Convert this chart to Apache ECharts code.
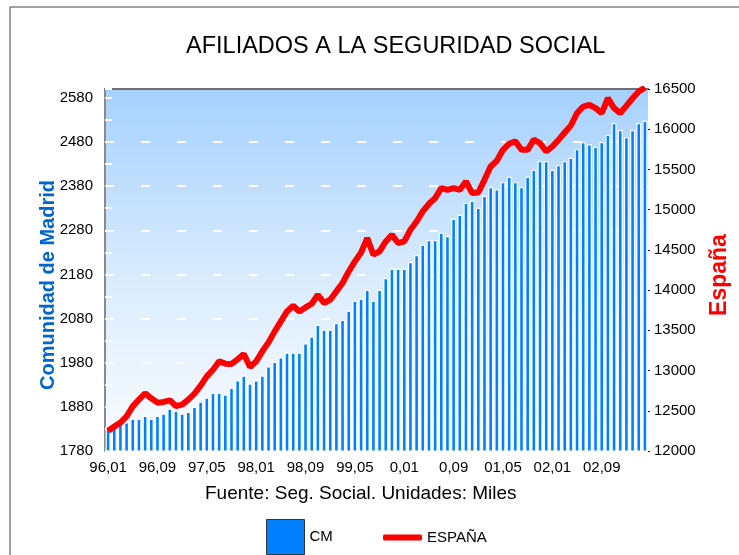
<!DOCTYPE html>
<html>
<head>
<meta charset="utf-8">
<title>Afiliados a la Seguridad Social</title>
<script src="https://cdn.jsdelivr.net/npm/echarts@6/dist/echarts.min.js"></script>
<style>
  html, body { margin: 0; padding: 0; background: #fff; }
  #chart { width: 739px; height: 555px; }
</style>
</head>
<body>
<div id="chart"></div>
<script>
// Meses: 96,01 ... 03,04 (el año 2000 aparece como "0")
const startYear = 96
const monthCount = 88
const months = []
for (let k = 0; k < monthCount; k++) {
  const yy = (startYear + Math.floor(k / 12)) % 100
  const mm = (k % 12) + 1
  months.push((yy === 0 ? '0' : String(yy).padStart(2, '0')) + ',' + String(mm).padStart(2, '0'))
}

// Comunidad de Madrid (miles, eje izquierdo)
const cmData = [
  1835, 1832, 1842, 1845, 1853, 1853, 1860, 1853, 1860, 1865, 1876, 1871,
  1865, 1869, 1880, 1892, 1901, 1912, 1912, 1908, 1923, 1940, 1951, 1933,
  1940, 1951, 1972, 1982, 1992, 2003, 2003, 2003, 2024, 2039, 2066, 2055,
  2055, 2070, 2077, 2098, 2120, 2125, 2145, 2120, 2145, 2172, 2193, 2193,
  2193, 2208, 2224, 2247, 2258, 2258, 2274, 2267, 2306, 2315, 2342, 2347,
  2331, 2358, 2378, 2373, 2389, 2401, 2389, 2378, 2401, 2417, 2437, 2437,
  2417, 2428, 2437, 2444, 2464, 2480, 2475, 2469, 2480, 2496, 2523, 2507,
  2491, 2507, 2523, 2528
]

// España (miles, eje derecho)
const espData = [
  12253, 12303, 12353, 12431, 12555, 12639, 12717, 12655, 12601, 12610, 12630, 12560,
  12576, 12639, 12713, 12812, 12928, 13011, 13114, 13086, 13082, 13140, 13206, 13045,
  13114, 13239, 13350, 13487, 13611, 13735, 13806, 13735, 13785, 13831, 13943, 13840,
  13881, 13984, 14088, 14232, 14357, 14468, 14647, 14440, 14481, 14605, 14688, 14585,
  14605, 14750, 14853, 14978, 15073, 15144, 15268, 15247, 15268, 15247, 15350, 15206,
  15214, 15371, 15537, 15607, 15744, 15820, 15850, 15744, 15744, 15870, 15827, 15723,
  15785, 15868, 15959, 16046, 16200, 16282, 16303, 16262, 16200, 16386, 16262, 16200,
  16290, 16386, 16469, 16520
]

// líneas blancas discontinuas de la rejilla (eje izquierdo)
const gridLevels = [1980, 2080, 2180, 2280, 2380, 2480]

const font = '"Liberation Sans", Arial, sans-serif'

let myChart = echarts.init(document.getElementById('chart'))
let option = {
  backgroundColor: '#fff',
  animation: false,
  title: {
    text: 'AFILIADOS A LA SEGURIDAD SOCIAL',
    left: 181,
    top: 30,
    textStyle: { fontFamily: font, fontSize: 23.5, fontWeight: 'normal', color: '#000' }
  },
  legend: [
    {
      left: 266,
      top: 519,
      padding: 0,
      itemWidth: 38,
      itemHeight: 35,
      textStyle: { fontFamily: font, fontSize: 15, color: '#000' },
      data: [{ name: 'CM', icon: 'rect', itemStyle: { borderColor: '#333', borderWidth: 1 } }]
    },
    {
      left: 383,
      top: 530,
      padding: 0,
      itemWidth: 39,
      itemHeight: 6,
      textStyle: { fontFamily: font, fontSize: 15, color: '#000' },
      data: [{ name: 'ESPAÑA', icon: 'roundRect' }]
    }
  ],
  grid: {
    left: 105,
    right: 89,
    top: 89,
    bottom: 104,
    show: true,
    borderWidth: 0,
    backgroundColor: {
      type: 'linear', x: 0, y: 0, x2: 0, y2: 1,
      colorStops: [
        { offset: 0, color: '#a6d1fd' },
        { offset: 0.55, color: '#dcedfd' },
        { offset: 1, color: '#fafcff' }
      ]
    }
  },
  graphic: [
    {
      type: 'rect',
      shape: { x: 10, y: 7, width: 760, height: 580 },
      style: { fill: 'none', stroke: '#444', lineWidth: 1 },
      silent: true
    },
    {
      type: 'text',
      left: 205,
      top: 484,
      style: { text: 'Fuente: Seg. Social. Unidades: Miles', font: '19px ' + font, fill: '#000' }
    }
  ],
  xAxis: [
    {
      type: 'category',
      data: months,
      axisLine: { show: false },
      axisTick: { show: false },
      axisLabel: { interval: 7, margin: 9, fontFamily: font, fontSize: 15, color: '#000' }
    },
    {
      type: 'category',
      position: 'top',
      data: months,
      axisLine: { show: true, lineStyle: { color: '#6e6e6e', width: 2 } },
      axisTick: { show: false },
      axisLabel: { show: false }
    }
  ],
  yAxis: [
    {
      type: 'value',
      min: 1780,
      max: 2600,
      interval: 100,
      name: 'Comunidad de Madrid',
      nameLocation: 'middle',
      nameRotate: 90,
      nameGap: 47,
      nameMoveOverlap: false,
      nameTextStyle: { fontFamily: font, fontSize: 20, fontWeight: 'bold', color: '#0066cc', padding: [0, 30, 0, 0] },
      axisLine: { show: true, lineStyle: { color: '#8a8a8a', width: 2 } },
      axisTick: { show: true, inside: true, length: 7, lineStyle: { color: '#fff', width: 2 } },
      minorTick: { show: true, splitNumber: 2, length: 7, lineStyle: { color: '#fff', width: 2 } },
      axisLabel: { showMaxLabel: false, margin: 12, fontFamily: font, fontSize: 15, color: '#000', formatter: v => String(v) },
      splitLine: { show: false }
    },
    {
      type: 'value',
      min: 12000,
      max: 16500,
      interval: 500,
      name: 'España',
      nameLocation: 'middle',
      nameRotate: 90,
      nameGap: 60,
      nameTextStyle: { fontFamily: font, fontSize: 23, fontWeight: 'bold', color: '#ff0000', padding: [0, 10, 0, 0] },
      axisLine: { show: false },
      axisTick: { show: true, length: 2, lineStyle: { color: '#000', width: 1 } },
      axisLabel: { margin: 6, fontFamily: font, fontSize: 15, color: '#000', formatter: v => String(v) },
      splitLine: { show: false }
    }
  ],
  series: [
    {
      // serie vacía: sólo dibuja la rejilla por debajo de las barras
      name: 'rejilla',
      type: 'line',
      yAxisIndex: 0,
      data: [],
      z: 1,
      markLine: {
        z: 1,
        silent: true,
        symbol: 'none',
        label: { show: false },
        lineStyle: { color: '#fff', width: 2, type: [9, 27], opacity: 1 },
        data: gridLevels.map(v => ({ yAxis: v }))
      }
    },
    {
      name: 'CM',
      type: 'bar',
      yAxisIndex: 0,
      data: cmData,
      barWidth: 5,
      z: 2,
      itemStyle: { color: '#0080ff', borderColor: '#fff', borderWidth: 1.2 }
    },
    {
      name: 'ESPAÑA',
      type: 'line',
      yAxisIndex: 1,
      data: espData,
      symbol: 'none',
      z: 3,
      lineStyle: { color: '#ff0000', width: 6 },
      itemStyle: { color: '#ff0000' }
    }
  ]
}
myChart.setOption(option)
</script>
</body>
</html>
